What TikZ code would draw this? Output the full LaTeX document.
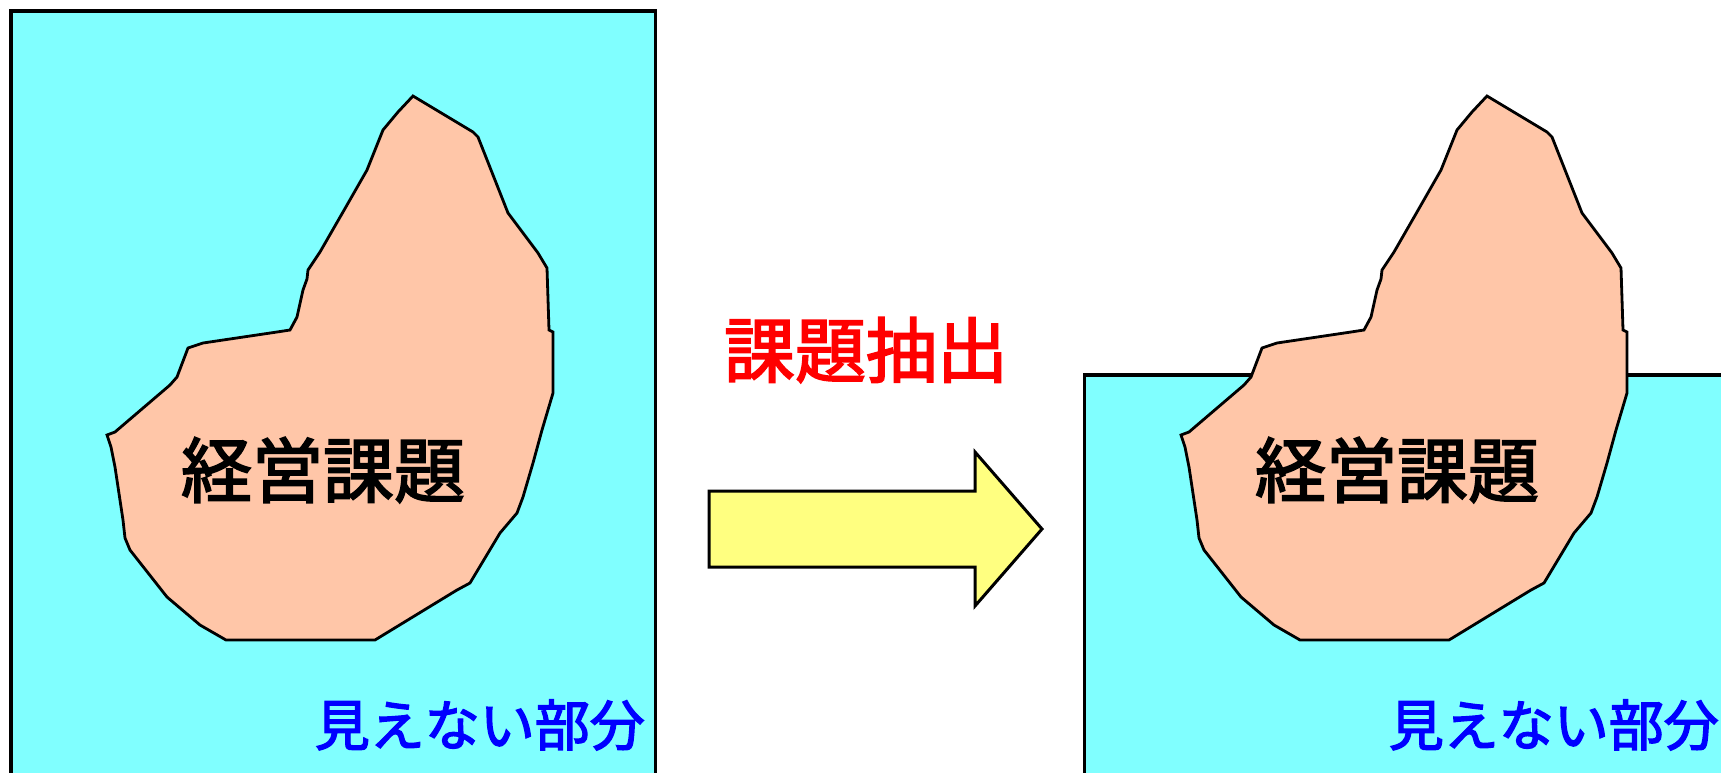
\documentclass[tikz,border=0pt]{standalone}
\usepackage{fontspec}
\newfontfamily\jp[FakeBold=2.5]{Noto Sans CJK JP}
\definecolor{sea}{HTML}{80FFFF}
\definecolor{berg}{HTML}{FFC6A8}
\definecolor{arrowfill}{HTML}{FFFF80}
\definecolor{redtxt}{HTML}{FF0000}
\definecolor{bluetxt}{HTML}{0000FF}
\newcommand{\bergoutline}{(413,96) -- (473,132) -- (478,137) -- (508,213) -- (538,253) -- (547,268) -- (549,330) -- (553,332) -- (553,393) -- (542,430) -- (533,463) -- (523,497) -- (517,513) -- (500,533) -- (470,583) -- (457,590) -- (375,640) -- (226,640) -- (200,625) -- (167,597) -- (130,550) -- (125,538) -- (123,520) -- (115,467) -- (111,447) -- (107,435) -- (115,432) -- (170,385) -- (177,377) -- (188,348) -- (203,343) -- (277,332) -- (290,330) -- (297,317) -- (303,290) -- (307,279) -- (308,270) -- (320,252) -- (343,212) -- (367,170) -- (383,130) -- (398,112) -- cycle}
\tikzset{
  seafill/.style={fill=sea},
  seaedge/.style={draw=black, line width=3.5pt, line join=miter},
  berg/.style={fill=berg, draw=black, line width=2.8pt, line join=miter},
  bigarrow/.style={fill=arrowfill, draw=black, line width=3pt, line join=miter},
  maintext/.style={font=\jp\fontsize{71}{80}\selectfont, inner sep=0pt, text=black},
  redlabel/.style={font=\jp\fontsize{71}{80}\selectfont, inner sep=0pt, text=redtxt},
  hiddenlabel/.style={font=\jp\fontsize{55}{60}\selectfont, inner sep=0pt, text=bluetxt}
}
\begin{document}
\begin{tikzpicture}[x=1pt, y=-1pt]
  \useasboundingbox (0,0) rectangle (1721,772);
  \clip (0,0) rectangle (1721,772);
  \fill[white] (0,0) rectangle (1721,772);
  % left panel
  \fill[seafill] (11,11) rectangle (655.5,800);
  \draw[seaedge] (11,800) -- (11,11) -- (655.5,11) -- (655.5,800);
  \draw[berg] \bergoutline;
  \node[maintext] (leftmain) at (323,470) {経営課題};
  \node[hiddenlabel, anchor=east] (lefthidden) at (645,725) {見えない部分};
  % middle arrow and label
  \draw[bigarrow] (709,491) -- (975,491) -- (975,452) -- (1042,529) -- (975,606) -- (975,567) -- (709,567) -- cycle;
  \node[redlabel] (extract) at (866,350) {課題抽出};
  % right panel
  \fill[seafill] (1084.5,375) rectangle (1760,800);
  \draw[seaedge] (1084.5,800) -- (1084.5,375) -- (1760,375);
  \begin{scope}[shift={(1074,0)}]
    \draw[berg] \bergoutline;
    \node[maintext] (rightmain) at (323,470) {経営課題};
  \end{scope}
  \node[hiddenlabel, anchor=east] (righthidden) at (1719,725) {見えない部分};
\end{tikzpicture}
\end{document}
